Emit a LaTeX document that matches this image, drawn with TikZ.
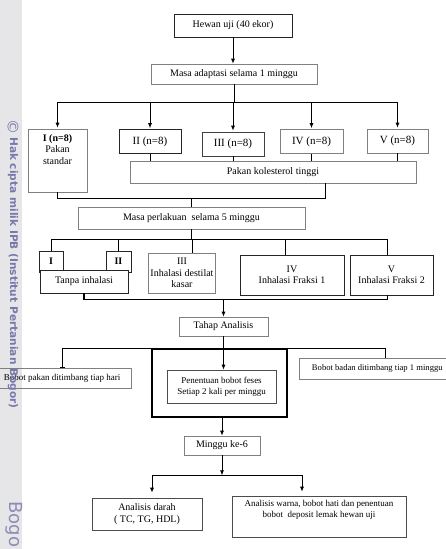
\documentclass[tikz,border=0pt]{standalone}
\usepackage{fontspec}
\setmainfont{Liberation Serif}
\newfontfamily\wmfont{DejaVu Sans}
\usetikzlibrary{arrows.meta,positioning,calc}
\definecolor{wmtext}{RGB}{120,120,170}
\definecolor{wmstrip}{RGB}{230,230,233}

\begin{document}
\begin{tikzpicture}[x=1pt,y=-1pt,>={Latex[length=5pt,width=4pt]}]

		% Styles for the boxes
		\tikzstyle{box}=[draw=black!50,line width=0.6pt,inner sep=2pt,align=center,font=\fontsize{10}{11.5}\selectfont]
		\tikzstyle{darkbox}=[box,draw=black!85]
		\tikzstyle{groupbox}=[box,font=\fontsize{11}{12}\selectfont,minimum height=24]
		\tikzstyle{smallbox}=[box,font=\fontsize{9}{11}\selectfont]
		\tikzstyle{line}=[draw=black,line width=0.8pt]
		\tikzstyle{stripmark}=[rotate=-90,anchor=west,inner sep=0pt,text=wmtext]

		\useasboundingbox (0,0) rectangle (445,549);

		% Side strip
		\fill[wmstrip] (0,0) rectangle (22,549);

		% Nodes for the first part
		\node[darkbox,line width=0.9pt,minimum width=118,minimum height=23] (hewan) at (233,25.5) {Hewan uji (40 ekor)};
		\node[box,minimum width=166,minimum height=20] (adapt) at (234,74) {Masa adaptasi selama 1 minggu};
		\node[box,minimum width=59,minimum height=63] (g1) at (57.5,160.5) {\parbox[t][52pt]{54pt}{\centering\textbf{I (n=8)}\\Pakan\\standar}};
		\node[groupbox,draw=black!85,minimum width=62] (g2) at (150,141.5) {II (n=8)};
		\node[groupbox,draw=black!75,minimum width=62] (g3) at (233,144) {III (n=8)};
		\node[groupbox,minimum width=63] (g4) at (311.5,141.5) {IV (n=8)};
		\node[groupbox,minimum width=61] (g5) at (397.5,141) {V (n=8)};
		\node[box,minimum width=286,minimum height=22] (kol) at (273,172) {Pakan kolesterol tinggi};
		\node[box,minimum width=227,minimum height=22] (perl) at (191.5,218) {Masa perlakuan\ \ selama 5 minggu};

		% Nodes for the treatments
		\node[darkbox,minimum width=24,minimum height=21] (tI) at (51,261.5) {\textbf{I}};
		\node[darkbox,minimum width=25,minimum height=21] (tII) at (118.5,261.5) {\textbf{II}};
		\node[darkbox,fill=white,minimum width=88,minimum height=23] (tanpa) at (84,281.5) {Tanpa inhalasi};
		\node[box,minimum width=62,minimum height=40] (i3) at (182,273) {III\\Inhalasi destilat\\kasar};
		\node[darkbox,minimum width=104,minimum height=40] (i4) at (292,275) {IV\\Inhalasi Fraksi 1};
		\node[darkbox,minimum width=83,minimum height=40] (i5) at (391.5,275) {V\\Inhalasi Fraksi 2};

		% Nodes for the analysis
		\node[box,minimum width=89,minimum height=19] (tahap) at (223.5,326.5) {Tahap Analisis};
		\node[draw,line width=1.8pt,minimum width=135,minimum height=68] (frame) at (219.5,383) {};
		\node[smallbox,draw=black!70,minimum width=109,minimum height=33] (pen) at (221.5,386.5) {Penentuan bobot feses\\Setiap 2 kali per minggu};
		\node[smallbox,minimum width=138,minimum height=20] (botpakan) at (62,378) {Bobot pakan ditimbang tiap hari};
		\node[smallbox,font=\fontsize{8.6}{10}\selectfont,anchor=west,minimum width=156,minimum height=21] (badan) at (299,368.5) {Bobot badan ditimbang tiap 1 minggu};
		\node[box,minimum width=76,minimum height=19] (minggu) at (222,445.5) {Minggu ke-6};
		\node[darkbox,draw=black!70,minimum width=110,minimum height=32] (darah) at (147,514) {Analisis darah\\( TC, TG, HDL)};
		\node[smallbox,draw=black!70,minimum width=174,minimum height=41] (akhir) at (319,516.5) {\parbox[t][33pt]{170pt}{\centering Analisis warna, bobot hati dan penentuan\\bobot\ \ deposit lemak hewan uji}};

		% Connectors
		\draw[line,->] (hewan.south) -- (hewan.south |- adapt.north);
		\draw[line] (adapt.south) -- ++(0,18) coordinate (j1);
		\foreach \g in {g1,g2,g3,g4,g5}
			\draw[line,->,shorten >=1pt] (j1) -| (\g.north);
		\foreach \g in {g2,g3,g4,g5}
			\draw[line] (\g.south) -- (\g.south |- kol.north);

		\coordinate (j2) at ($(perl.north)+(0,-8)$);
		\draw[line] (g1.south) |- (j2);
		\draw[line] ($(kol.south)+(52,0)$) |- (j2) -- (perl.north);

		\draw[line] (perl.south) -- ++(0,10) coordinate (j3);
		\foreach \t/\s in {tI/0,tII/0,i3/10,i4/-7,i5/-4}
			\draw[line] (j3) -| ($(\t.north)+(\s,0)$);

		\draw[line,line width=1.5pt] (tanpa.south) -- ++(0,6) coordinate (j4) -| ($(i5.south)+(-4,0)$);
		\draw[line,->] (j4 -| tahap.north) -- (tahap.north);

		\draw[line,->] (tahap.south) -- (tahap.south |- pen.north);
		\draw[line,-{Bar[width=5pt]}] (tahap.south |- frame.north) -| (botpakan.north);
		\draw[line] (tahap.south |- frame.north) -| ($(badan.north)+(8,0)$);

		\draw[line,->] (frame.south -| minggu.north) -- (minggu.north);
		\draw[line,->] (minggu.south) -- ++(0,20) coordinate (j5);
		\draw[line,->,shorten >=5pt] (j5) -| ($(darah.north)+(5,0)$);
		\draw[line,->,shorten >=4pt] (j5) -| ($(akhir.north)+(-17,0)$);

		% Side strip text
		\node[stripmark,anchor=center,font=\wmfont\fontsize{15}{15}\selectfont] (copy) at (13,126.5) {\textcopyright};
		\node[stripmark,font=\wmfont\bfseries\fontsize{10.6}{12}\selectfont] (hak) at (13,137) {Hak cipta milik IPB (Institut Pertanian Bogor)};
		\node[stripmark,text=wmtext!85,font=\wmfont\fontsize{18}{18}\selectfont] (bogo) at (14,501) {Bogo};

\end{tikzpicture}
\end{document}
